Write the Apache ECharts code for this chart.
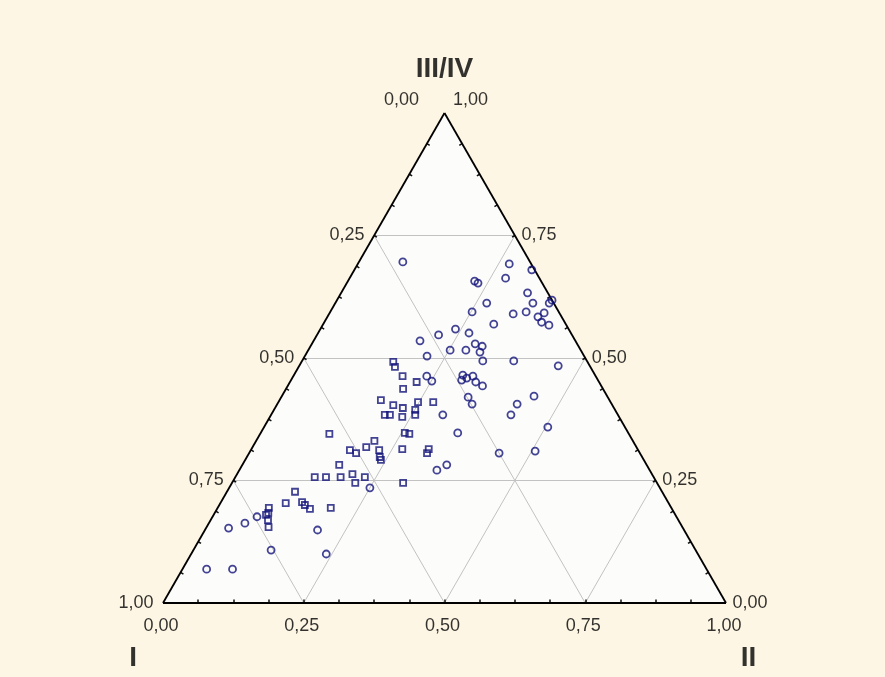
<!DOCTYPE html>
<html>
<head>
<meta charset="utf-8">
<script src="https://cdn.jsdelivr.net/npm/echarts@6/dist/echarts.min.js"></script>
<style>
  html, body { margin: 0; padding: 0; background: #fdf6e4; }
  #chart { width: 885px; height: 677px; }
</style>
</head>
<body>
<div id="chart"></div>
<script>
// ternary values: II (right vertex) and III/IV (top vertex); I = 1 - II - III/IV
const circII = [0.078,0.269,0.315,0.225,0.233,0.277,0.331,0.351,0.380,0.382,0.269,0.252,0.327,0.348,0.381,0.374,0.386,0.402,0.303,0.240,0.268,0.216,0.189,0.290,0.305,0.307,0.252,0.280,0.217,0.321,0.376,0.460,0.300,0.303,0.310,0.319,0.330,0.346,0.237,0.251,0.332,0.346,0.448,0.426,0.426,0.504,0.305,0.350,0.444,0.506,0.351,0.363,0.250,0.138,0.240,0.200,0.040,0.064,0.079,0.043,0.089];
const circIII = [0.696,0.692,0.680,0.657,0.653,0.663,0.633,0.612,0.612,0.618,0.612,0.594,0.590,0.594,0.592,0.584,0.573,0.567,0.569,0.559,0.551,0.547,0.535,0.529,0.524,0.512,0.516,0.516,0.504,0.494,0.494,0.484,0.465,0.455,0.459,0.463,0.451,0.443,0.463,0.453,0.420,0.406,0.422,0.406,0.384,0.359,0.384,0.347,0.306,0.310,0.271,0.282,0.235,0.108,0.100,0.149,0.153,0.163,0.176,0.069,0.069];
const sqII = [0.163,0.171,0.194,0.225,0.208,0.180,0.207,0.227,0.248,0.275,0.202,0.211,0.235,0.251,0.256,0.256,0.265,0.268,0.315,0.316,0.123,0.210,0.202,0.176,0.190,0.228,0.236,0.241,0.172,0.141,0.161,0.187,0.205,0.219,0.230,0.304,0.121,0.116,0.144,0.152,0.165,0.201,0.091,0.095,0.093,0.102,0.110];
const sqIII = [0.492,0.482,0.463,0.451,0.437,0.414,0.404,0.398,0.410,0.410,0.384,0.384,0.380,0.394,0.384,0.347,0.345,0.314,0.314,0.306,0.345,0.331,0.318,0.312,0.306,0.312,0.298,0.292,0.282,0.257,0.257,0.257,0.263,0.245,0.257,0.245,0.227,0.204,0.206,0.200,0.192,0.194,0.194,0.184,0.180,0.169,0.155];

const tickValues = [0, 0.25, 0.5, 0.75, 1];
const tickLabels = ['0,00', '0,25', '0,50', '0,75', '1,00'];
const axisNames = ['I', 'II', 'III/IV'];

const FONT = '"Liberation Sans", Arial, sans-serif';
const NAVY = '#14147a';

// ternary -> cartesian (x along base, y = height fraction)
function toXY(ii, iii) { return [ii + iii / 2, iii]; }

let chart = echarts.init(document.getElementById('chart'));

// grid lines at 0.25 steps
const gridLines = [];
[0.25, 0.5, 0.75].forEach(k => {
  gridLines.push({ coords: [toXY(0, k), toXY(1 - k, k)] });           // III/IV = k
  gridLines.push({ coords: [toXY(k, 0), toXY(k, 1 - k)] });           // II = k
  gridLines.push({ coords: [toXY(1 - k, 0), toXY(0, 1 - k)] });       // I = k
});

const edges = [
  { coords: [toXY(0, 0), toXY(1, 0)] },
  { coords: [toXY(0, 0), toXY(0, 1)] },
  { coords: [toXY(1, 0), toXY(0, 1)] }
];

// small tick marks every 1/16 along the edges
const ticks = [];
for (let i = 1; i < 16; i++) {
  const t = i / 16;
  ticks.push({ coords: [toXY(t, 0), [t, 0.007]] });
  const l = toXY(0, t);
  ticks.push({ coords: [l, [l[0] + 0.005, l[1] - 0.0035]] });
  const r = toXY(1 - t, t);
  ticks.push({ coords: [r, [r[0] - 0.005, r[1] - 0.0035]] });
}

const labelStyle = { color: '#000', fontSize: 18, fontFamily: FONT };
const labelData = [];
tickValues.forEach((v, i) => {
  // bottom: II
  labelData.push({ value: toXY(v, 0), label: Object.assign({ formatter: tickLabels[i], position: 'bottom', distance: 14, offset: [-2, 0] }, labelStyle) });
  // left: I
  labelData.push({ value: toXY(0, 1 - v), label: Object.assign({ formatter: tickLabels[i], position: 'left', distance: 9, offset: v === 0 ? [-16, -13] : [0, 0] }, labelStyle) });
  // right: III/IV
  labelData.push({ value: toXY(1 - v, v), label: Object.assign({ formatter: tickLabels[i], position: 'right', distance: 6, offset: v === 1 ? [2, -13] : [0, 0] }, labelStyle) });
});

const nameStyle = { color: '#000', fontSize: 28, fontWeight: 'bold', fontFamily: FONT, position: 'inside' };
const nameData = [
  { value: [-0.053, -0.112], label: Object.assign({ formatter: axisNames[0] }, nameStyle) },
  { value: [1.04, -0.112], label: Object.assign({ formatter: axisNames[1] }, nameStyle) },
  { value: [0.5, 1.09], label: Object.assign({ formatter: axisNames[2] }, nameStyle) }
];

const option = {
  backgroundColor: '#fdf6e4',
  animation: false,
  grid: { left: 163, top: 113, width: 563, height: 490 },
  xAxis: { type: 'value', min: 0, max: 1, show: false },
  yAxis: { type: 'value', min: 0, max: 1, show: false },
  series: [
    {
      type: 'line',
      data: [[0, 0], [0.5, 1], [1, 0]],
      symbol: 'none',
      lineStyle: { width: 0 },
      areaStyle: { color: '#fcfcfb', opacity: 1 },
      silent: true,
      z: 1
    },
    {
      type: 'lines',
      coordinateSystem: 'cartesian2d',
      data: gridLines,
      lineStyle: { color: '#c2c2c2', width: 1, opacity: 1 },
      silent: true,
      z: 2
    },
    {
      type: 'lines',
      coordinateSystem: 'cartesian2d',
      data: ticks,
      lineStyle: { color: '#111', width: 1.5, opacity: 1 },
      silent: true,
      z: 3
    },
    {
      type: 'lines',
      coordinateSystem: 'cartesian2d',
      data: edges,
      lineStyle: { color: '#000', width: 1.8, opacity: 1 },
      silent: true,
      z: 4
    },
    {
      name: 'circles',
      type: 'scatter',
      data: circII.map((v, i) => toXY(v, circIII[i])),
      symbol: 'circle',
      symbolSize: 7,
      itemStyle: { color: 'rgba(0,0,0,0)', borderColor: NAVY, borderWidth: 1.8 },
      z: 5
    },
    {
      name: 'squares',
      type: 'scatter',
      data: sqII.map((v, i) => toXY(v, sqIII[i])),
      symbol: 'rect',
      symbolSize: 6,
      itemStyle: { color: 'rgba(0,0,0,0)', borderColor: NAVY, borderWidth: 1.8 },
      z: 5
    },
    {
      type: 'scatter',
      data: labelData,
      symbolSize: 1,
      itemStyle: { color: 'rgba(0,0,0,0)' },
      label: { show: true },
      clip: false,
      silent: true,
      z: 6
    },
    {
      type: 'scatter',
      data: nameData,
      symbolSize: 1,
      itemStyle: { color: 'rgba(0,0,0,0)' },
      label: { show: true },
      clip: false,
      silent: true,
      z: 6
    }
  ]
};
chart.setOption(option);
</script>
</body>
</html>
